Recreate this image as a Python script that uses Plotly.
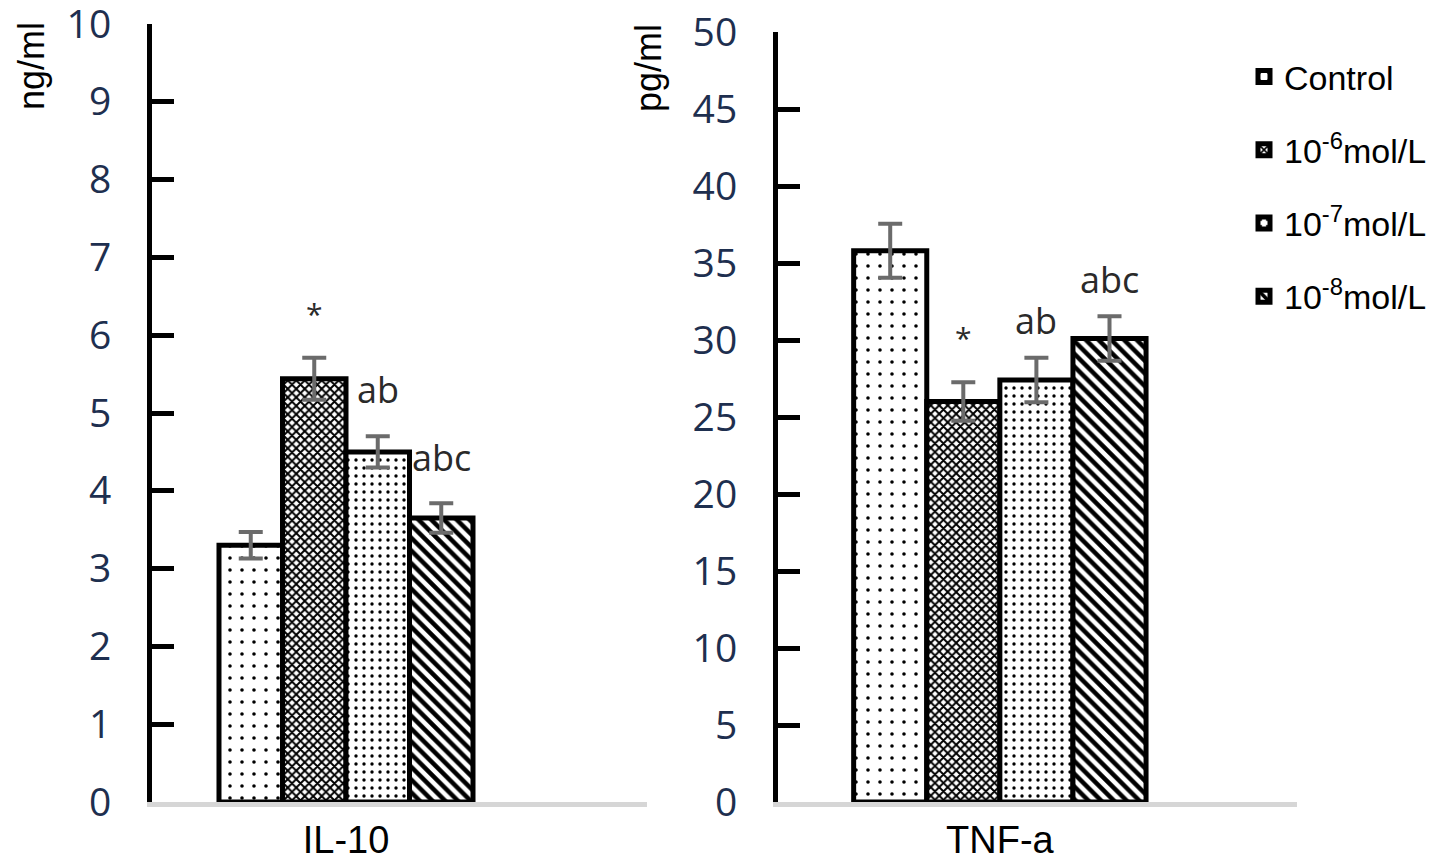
import plotly.graph_objects as go

# ---- data ----
series = ["Control", "10<sup>-6</sup>mol/L", "10<sup>-7</sup>mol/L", "10<sup>-8</sup>mol/L"]
il10_values = [3.30, 5.44, 4.50, 3.65]
il10_errors = [0.17, 0.27, 0.20, 0.19]
tnf_values = [35.8, 26.0, 27.4, 30.1]
tnf_errors = [1.75, 1.25, 1.45, 1.45]
il10_labels = ["", "*", "ab", "abc"]
tnf_labels = ["", "*", "ab", "abc"]
il10_ticks = list(range(0, 11, 1))
tnf_ticks = list(range(0, 51, 5))
panel_names = ["IL-10", "TNF-a"]
y_units = ["ng/ml", "pg/ml"]

# ---- styles ----
patterns = [
    dict(shape=".", size=12, solidity=0.07),
    dict(shape="x", size=6, solidity=0.55),
    dict(shape=".", size=8, solidity=0.14),
    dict(shape="\\", size=9, solidity=0.5),
]
TICK_COLOR = "#1e2f4f"
OFF = 8            # page body margin
W = 1452 - OFF
H = 860 - OFF


def fx(px):
    return (px - OFF) / W


def fy(py):
    return 1 - (py - OFF) / H


fig = go.Figure()

panels = [
    dict(xa="x", ya="y", vals=il10_values, errs=il10_errors, labels=il10_labels, showlegend=True),
    dict(xa="x2", ya="y2", vals=tnf_values, errs=tnf_errors, labels=tnf_labels, showlegend=False),
]

for p in panels:
    for i, name in enumerate(series):
        fig.add_trace(go.Bar(
            x=[0], y=[p["vals"][i]], name=name,
            xaxis=p["xa"], yaxis=p["ya"],
            legendgroup=f"g{i}", showlegend=p["showlegend"],
            marker=dict(color="white", line=dict(color="black", width=5),
                        pattern=dict(fgcolor="black", bgcolor="white", fillmode="replace", **patterns[i])),
            error_y=dict(type="data", array=[p["errs"][i]], color="#6b6b6b", thickness=4, width=12),
        ))

# labels above bars
n = len(series)
group_w = 0.8
pads = [[0, 40, 32, 31], [0, 40, 23, 22]]
for k, p in enumerate(panels):
    for i, lab in enumerate(p["labels"]):
        if not lab:
            continue
        xc = (i - (n - 1) / 2) * group_w / n
        is_star = lab == "*"
        fig.add_annotation(
            x=xc, y=p["vals"][i] + p["errs"][i], xref=p["xa"], yref=p["ya"],
            text=lab, showarrow=False, xanchor="center", yanchor="bottom",
            yshift=pads[k][i] - (18 if is_star else 12),
            font=dict(family="Open Sans", size=30 if is_star else 36, color="#2a2a2a"),
        )

fig.update_layout(
    width=W, height=H,
    margin=dict(l=0, r=0, t=0, b=0, autoexpand=False),
    paper_bgcolor="white", plot_bgcolor="white",
    barmode="group", bargap=0.2, bargroupgap=0,
    showlegend=True,
    legend=dict(x=fx(1244), xanchor="left", y=fy(48), yanchor="top",
                font=dict(family="Liberation Sans", size=34, color="black"),
                tracegroupgap=26, bgcolor="rgba(0,0,0,0)"),
)

yaxis_common = dict(
    showline=True, linecolor="black", linewidth=5,
    ticks="inside", ticklen=22, tickwidth=5, tickcolor="black",
    showgrid=False, zeroline=False, automargin=False,
    tickfont=dict(family="Open Sans", size=39, color=TICK_COLOR),
    ticklabelstandoff=28, ticklabeloverflow="allow",
)
xaxis_common = dict(
    showline=True, linecolor="#d6d6d6", linewidth=5,
    ticks="", showgrid=False, zeroline=False, automargin=False,
    tickfont=dict(family="Liberation Sans", size=38, color="black"),
    tickvals=[0], ticklabeloverflow="allow",
)

fig.update_layout(
    xaxis=dict(domain=[fx(152), fx(647)], range=[-0.611, 0.948], ticktext=[panel_names[0]], anchor="y", **xaxis_common),
    xaxis2=dict(domain=[fx(778), fx(1297)], range=[-0.607, 0.813], ticktext=[panel_names[1]], anchor="y2", **xaxis_common),
    yaxis=dict(domain=[fy(802), fy(24)], range=[0, 10], tickvals=il10_ticks, anchor="x", **yaxis_common),
    yaxis2=dict(domain=[fy(802), fy(32)], range=[0, 50], tickvals=tnf_ticks, anchor="x2", **yaxis_common),
)

# y unit titles
for xpix, unit, ytop in [(32, y_units[0], 20), (648, y_units[1], 22)]:
    fig.add_annotation(
        x=fx(xpix), y=fy(ytop), xref="paper", yref="paper",
        text=unit, textangle=-90, showarrow=False,
        xanchor="center", yanchor="top",
        font=dict(family="Liberation Sans", size=36, color="black"),
    )

fig.write_html("out.html")
